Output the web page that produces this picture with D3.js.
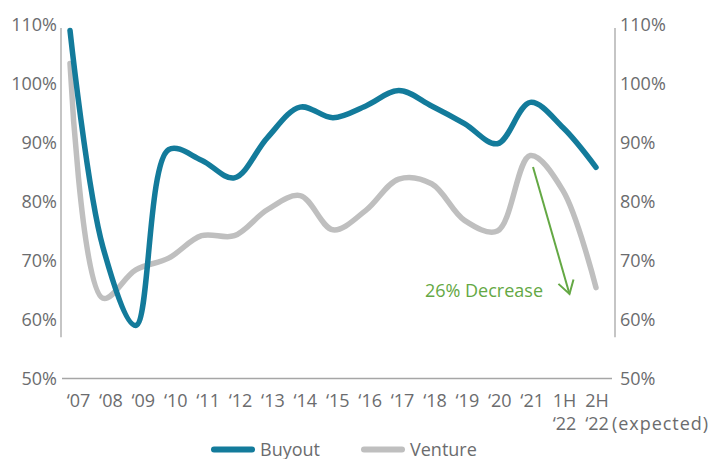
<!DOCTYPE html>
<html>
<head>
<meta charset="utf-8">
<script src="https://cdn.jsdelivr.net/npm/d3@7"></script>
<style>
  html, body { margin: 0; padding: 0; background: #fff; }
  svg { display: block; }
  text { font-family: "Open Sans", sans-serif; }
</style>
</head>
<body>
<svg id="chart" width="711" height="459"></svg>
<script>
const categories = ["‘07","‘08","‘09","‘10","‘11","‘12","‘13","‘14","‘15","‘16","‘17","‘18","‘19","‘20","‘21","1H ‘22","2H ‘22"];
const buyout  = [109.0, 72.3, 59.0, 88.8, 87.0, 84.0, 90.8, 96.0, 94.2, 96.2, 98.8, 96.2, 93.2, 89.8, 96.8, 92.5, 85.8];
const venture = [103.4, 63.6, 68.4, 70.4, 74.2, 74.2, 78.6, 81.0, 75.2, 78.5, 83.8, 83.0, 76.8, 75.0, 87.8, 81.8, 65.4];
const yTicks = [50, 60, 70, 80, 90, 100, 110];
const seriesNames = ["Buyout", "Venture"];
const annotationText = "26% Decrease";

const colors = { Buyout: "#137b9b", Venture: "#bfbfbf" };
const textColor = "#6b6c6e";
const axisColor = "#a6a6a6";
const green = "#64a844";

const svg = d3.select("#chart");
const y = d3.scaleLinear().domain([50, 110]).range([378.5, 24.5]);
const x = d3.scalePoint().domain(categories).range([70, 596]);
const xLab = d3.scalePoint().domain(categories).range([78.5, 597]);

// vertical axis lines
svg.append("line").attr("x1", 61).attr("x2", 61).attr("y1", y(109.4)).attr("y2", y(57))
  .attr("stroke", axisColor).attr("stroke-width", 1.3);
svg.append("line").attr("x1", 615).attr("x2", 615).attr("y1", y(109.4)).attr("y2", y(57))
  .attr("stroke", axisColor).attr("stroke-width", 1.3);
// baseline
svg.append("line").attr("x1", 62).attr("x2", 612).attr("y1", y(50)).attr("y2", y(50))
  .attr("stroke", axisColor).attr("stroke-width", 1.3);

// left axis
const la = svg.append("g").attr("transform", "translate(57,0)")
  .call(d3.axisLeft(y).tickValues(yTicks).tickSize(0).tickPadding(0).tickFormat(d => d + "%"));
la.select(".domain").remove();
la.selectAll("text").attr("font-size", 18).attr("fill", textColor)
  .attr("font-family", "'Open Sans', sans-serif").attr("dy", "0.36em");

// right axis
const ra = svg.append("g").attr("transform", "translate(620,0)")
  .call(d3.axisRight(y).tickValues(yTicks).tickSize(0).tickPadding(0).tickFormat(d => d + "%"));
ra.select(".domain").remove();
ra.selectAll("text").attr("font-size", 18).attr("fill", textColor)
  .attr("font-family", "'Open Sans', sans-serif").attr("dy", "0.36em");

// x labels
const xl = svg.append("g");
categories.forEach(c => {
  const parts = c.split(" ");
  const t = xl.append("text").attr("x", xLab(c)).attr("y", 406.5)
    .attr("text-anchor", "middle").attr("font-size", 18).attr("fill", textColor);
  t.append("tspan").attr("x", xLab(c)).text(parts[0]);
  if (parts[1]) t.append("tspan").attr("x", xLab(c)).attr("dy", 23).text(parts[1]);
});
svg.append("text").attr("x", xLab(categories[categories.length - 1]) + 15).attr("y", 429.5)
  .attr("font-size", 18).attr("fill", textColor).attr("textLength", 96).text("(expected)");

// lines
const line = d3.line().x((d, i) => x(categories[i])).y(d => y(d)).curve(d3.curveCatmullRom.alpha(0.5));
svg.append("path").datum(venture).attr("d", line).attr("fill", "none")
  .attr("stroke", colors.Venture).attr("stroke-width", 5.5).attr("stroke-linecap", "round").attr("stroke-linejoin", "round");
svg.append("path").datum(buyout).attr("d", line).attr("fill", "none")
  .attr("stroke", colors.Buyout).attr("stroke-width", 5.5).attr("stroke-linecap", "round").attr("stroke-linejoin", "round");

// annotation arrow
const ax1 = 533, ay1 = 167, ax2 = 569.5, ay2 = 294;
svg.append("line").attr("x1", ax1).attr("y1", ay1).attr("x2", ax2).attr("y2", ay2)
  .attr("stroke", green).attr("stroke-width", 2);
const ang = Math.atan2(ay2 - ay1, ax2 - ax1);
const hl = 15, ha = 0.55;
svg.append("path")
  .attr("d", `M${ax2 - hl * Math.cos(ang - ha)},${ay2 - hl * Math.sin(ang - ha)} L${ax2},${ay2} L${ax2 - hl * Math.cos(ang + ha)},${ay2 - hl * Math.sin(ang + ha)}`)
  .attr("fill", "none").attr("stroke", green).attr("stroke-width", 2).attr("stroke-linejoin", "miter");
svg.append("text").attr("x", 543).attr("y", 296.5).attr("text-anchor", "end")
  .attr("font-size", 18).attr("fill", green).text(annotationText);

// legend
const legendItems = [{ name: seriesNames[0], x0: 214 }, { name: seriesNames[1], x0: 364 }];
legendItems.forEach(it => {
  svg.append("line").attr("x1", it.x0).attr("x2", it.x0 + 38).attr("y1", 449.5).attr("y2", 449.5)
    .attr("stroke", colors[it.name]).attr("stroke-width", 6).attr("stroke-linecap", "round");
  svg.append("text").attr("x", it.x0 + 46).attr("y", 455.5).attr("font-size", 18)
    .attr("fill", textColor).text(it.name);
});
</script>
</body>
</html>
